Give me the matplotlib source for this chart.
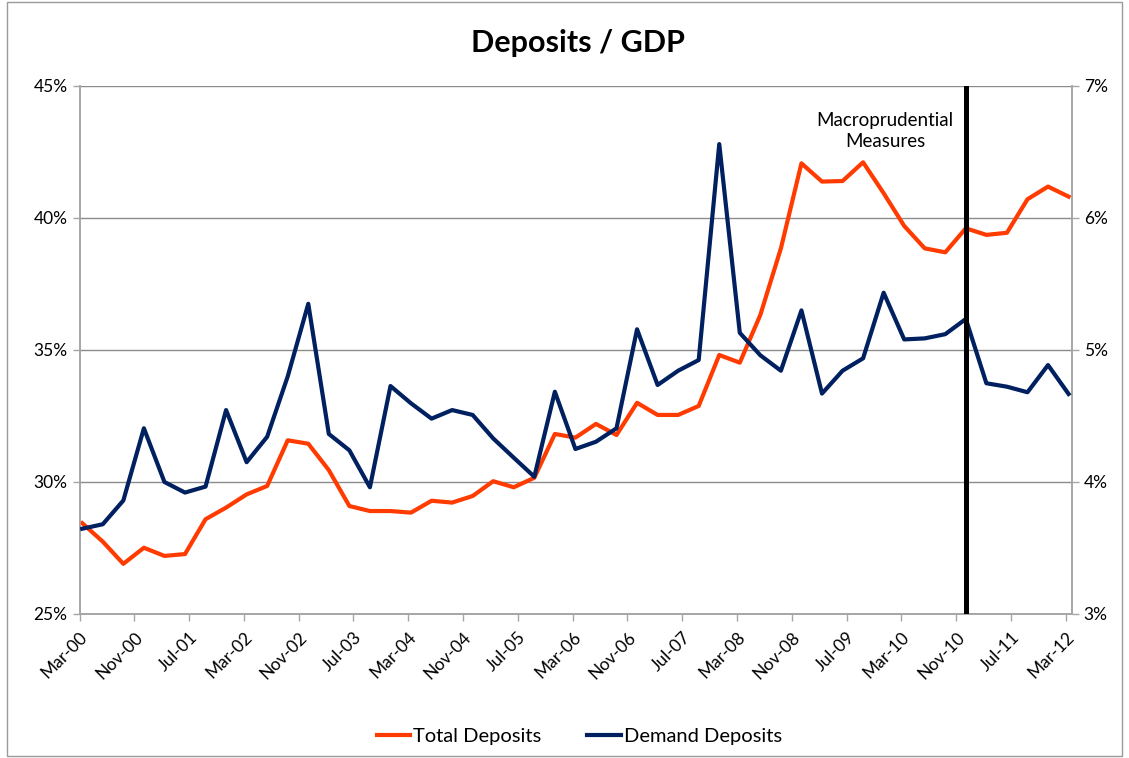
import matplotlib.pyplot as plt
from matplotlib.patches import Rectangle
import numpy as np

# Données trimestrielles, Mar-00 à Mar-12 (en %)
total_deposits = [28.44, 27.74, 26.90, 27.51, 27.20, 27.27, 28.59, 29.03, 29.53, 29.85,
                  31.58, 31.45, 30.45, 29.09, 28.90, 28.90, 28.84, 29.29, 29.22, 29.47,
                  30.03, 29.80, 30.16, 31.82, 31.68, 32.20, 31.78, 33.00, 32.54, 32.54,
                  32.88, 34.81, 34.52, 36.33, 38.85, 42.07, 41.38, 41.40, 42.11, 40.94,
                  39.70, 38.85, 38.70, 39.61, 39.36, 39.44, 40.71, 41.19, 40.81]
demand_deposits = [3.646, 3.680, 3.860, 4.407, 4.000, 3.920, 3.965, 4.545, 4.150, 4.343,
                   4.800, 5.350, 4.364, 4.240, 3.960, 4.727, 4.596, 4.480, 4.545, 4.508,
                   4.330, 4.184, 4.040, 4.684, 4.250, 4.305, 4.407, 5.157, 4.735, 4.843,
                   4.924, 6.560, 5.130, 4.960, 4.843, 5.300, 4.670, 4.843, 4.937, 5.434,
                   5.080, 5.088, 5.120, 5.235, 4.748, 4.722, 4.680, 4.886, 4.667]

# Position en mois depuis Mar-00 (fin de trimestre)
mois = np.arange(len(total_deposits)) * 3 + 0.4

tick_labels = ['Mar-00', 'Nov-00', 'Jul-01', 'Mar-02', 'Nov-02', 'Jul-03', 'Mar-04',
               'Nov-04', 'Jul-05', 'Mar-06', 'Nov-06', 'Jul-07', 'Mar-08', 'Nov-08',
               'Jul-09', 'Mar-10', 'Nov-10', 'Jul-11', 'Mar-12']
tick_pos = np.arange(len(tick_labels)) * 8

mesures_mois = 129.4  # Dec-10

plt.rcParams['font.family'] = ['Lato', 'DejaVu Sans']

rouge = '#ff3b00'
bleu = '#002060'
gris = '#8c8c8c'

fig = plt.figure(figsize=(11.29, 7.58), dpi=100)
fig.patches.append(Rectangle((0.006, 0.003), 0.988, 0.994, transform=fig.transFigure,
                             fill=False, edgecolor='#9a9a9a', linewidth=1))

ax1 = fig.add_axes([79.5 / 1129, 1 - 614 / 758, (1072 - 79.5) / 1129, (614 - 86) / 758])
ax2 = ax1.twinx()

ax1.plot(mois, total_deposits, color=rouge, linewidth=3, label='Total Deposits', zorder=3)
ax2.plot(mois, demand_deposits, color=bleu, linewidth=3, label='Demand Deposits', zorder=3)
ax2.axvline(mesures_mois, color='black', linewidth=3.6, zorder=4)

ax1.set_xlim(0, 144.9)
ax1.set_ylim(25, 45)
ax2.set_ylim(3, 7)
ax1.set_yticks([25, 30, 35, 40, 45])
ax1.set_yticklabels([f'{v}%' for v in [25, 30, 35, 40, 45]])
ax2.set_yticks([3, 4, 5, 6, 7])
ax2.set_yticklabels([f'{v}%' for v in [3, 4, 5, 6, 7]])
ax1.set_xticks(tick_pos)
ax1.set_xticklabels(tick_labels, rotation=45, ha='right', rotation_mode='anchor')

ax1.grid(axis='y', color=gris, linewidth=1)
ax1.set_axisbelow(True)
for ax in (ax1, ax2):
    ax.spines['top'].set_visible(False)
    for s in ('left', 'right', 'bottom'):
        ax.spines[s].set_color('#a6a6a6')
        ax.spines[s].set_linewidth(1.2)
    ax.tick_params(colors='#a6a6a6', labelcolor='black', labelsize=12.5, length=5, width=1)
ax1.tick_params(axis='x', pad=6)

ax2.text(117.6, 6.80, 'Macroprudential\nMeasures', ha='center', va='top', fontsize=13.5,
         linespacing=1.25)

fig.text(0.512, 0.943, 'Deposits / GDP', ha='center', va='center', fontsize=22,
         fontweight='bold')

h1, l1 = ax1.get_legend_handles_labels()
h2, l2 = ax2.get_legend_handles_labels()
fig.legend(h1 + h2, l1 + l2, loc='center', bbox_to_anchor=(0.513, 0.029), ncol=2,
           frameon=False, fontsize=14.5, handlelength=1.65, handletextpad=0.15,
           columnspacing=2.3)

fig.savefig('out.png', dpi=100)
